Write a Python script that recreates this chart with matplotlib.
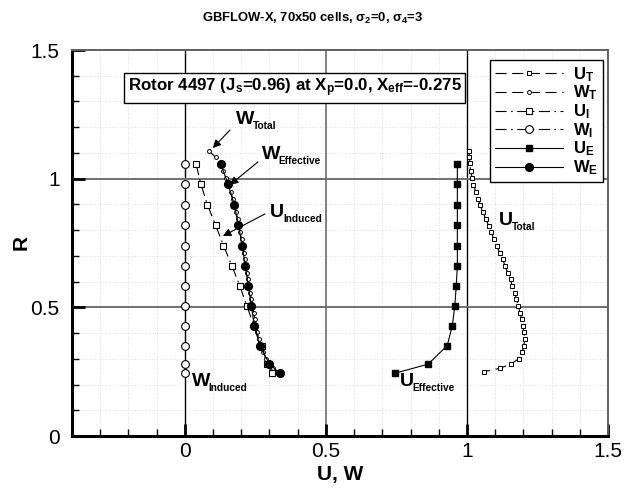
import matplotlib
matplotlib.use("Agg")
import matplotlib.pyplot as plt
from matplotlib.lines import Line2D
from matplotlib.transforms import IdentityTransform
import numpy as np

plt.rcParams['font.family'] = ['Liberation Sans', 'DejaVu Sans']
plt.rcParams['mathtext.fontset'] = 'custom'
plt.rcParams['mathtext.rm'] = 'Liberation Sans:bold'
plt.rcParams['mathtext.bf'] = 'Liberation Sans:bold'
plt.rcParams['mathtext.it'] = 'Liberation Sans:bold'
plt.rcParams['mathtext.sf'] = 'Liberation Sans:bold'

# ---- data ----
R_T = [1.109, 1.083, 1.060, 1.030, 1.001, 0.976, 0.950, 0.922, 0.898, 0.872,
       0.845, 0.817, 0.793, 0.764, 0.738, 0.712, 0.687, 0.661, 0.635, 0.609,
       0.583, 0.557, 0.531, 0.505, 0.479, 0.454, 0.429, 0.404, 0.378, 0.351,
       0.325, 0.300, 0.280, 0.263, 0.250]
U_T = [1.008, 1.008, 1.011, 1.013, 1.019, 1.022, 1.032, 1.040, 1.046, 1.056,
       1.066, 1.077, 1.086, 1.095, 1.106, 1.116, 1.127, 1.135, 1.144, 1.155,
       1.160, 1.170, 1.175, 1.182, 1.188, 1.194, 1.197, 1.202, 1.205, 1.202,
       1.196, 1.183, 1.156, 1.117, 1.060]
W_T = [0.085, 0.109, 0.125, 0.136, 0.146, 0.155, 0.162, 0.170, 0.176, 0.181,
       0.187, 0.192, 0.196, 0.201, 0.205, 0.209, 0.213, 0.217, 0.221, 0.225,
       0.228, 0.232, 0.236, 0.240, 0.244, 0.248, 0.252, 0.256, 0.262, 0.268,
       0.276, 0.286, 0.298, 0.312, 0.325]

R_S = [1.056, 0.978, 0.899, 0.819, 0.740, 0.661, 0.583, 0.505, 0.428, 0.351,
       0.279, 0.244]
U_I = [0.040, 0.057, 0.080, 0.109, 0.137, 0.167, 0.195, 0.220, 0.245, 0.272,
       0.293, 0.309]
W_I = [0.0] * 12
U_E = [0.966, 0.966, 0.966, 0.966, 0.966, 0.966, 0.962, 0.957, 0.948, 0.930,
       0.862, 0.745]
W_E = [0.127, 0.154, 0.175, 0.190, 0.203, 0.214, 0.225, 0.236, 0.246, 0.266,
       0.300, 0.337]

x_ticks = [0, 0.5, 1, 1.5]
x_ticklabels = ['0', '0.5', '1', '1.5']
y_ticks = [0, 0.5, 1, 1.5]
y_ticklabels = ['0', '0.5', '1', '1.5']

W, H = 625, 491
fig = plt.figure(figsize=(W / 100, H / 100), dpi=100)
ax = fig.add_axes([72 / W, (H - 436) / H, (608 - 72) / W, (436 - 50) / H])
ax.set_xlim(-0.4, 1.5)
ax.set_ylim(0, 1.5)

# grids
for v in np.arange(-0.3, 1.5, 0.1):
    ax.axvline(v, color='#d0d0d0', lw=0.6, ls=(0, (1, 2)), zorder=0)
for v in np.arange(0.1, 1.5, 0.1):
    ax.axhline(v, color='#d0d0d0', lw=0.6, ls=(0, (1, 2)), zorder=0)
ax.axvline(0.5, color='#808080', lw=1.4, zorder=1)
for v in [0, 1]:
    ax.axvline(v, color='black', lw=1.0, zorder=1)
for v in [0.5, 1]:
    ax.axhline(v, color='#707070', lw=1.4, zorder=1)

dash = (0, (10, 5))
dashdot = (0, (10, 4, 1.5, 4))
lw = 0.8
styles = [
    (U_T, R_T, dict(ls=dash, marker='s', ms=2.6, mfc='white', mec='black', mew=0.7)),
    (W_T, R_T, dict(ls=dash, marker='o', ms=2.8, mfc='white', mec='black', mew=0.7)),
    (U_I, R_S, dict(ls=dashdot, marker='s', ms=5.0, mfc='white', mec='black', mew=0.8)),
    (W_I, R_S, dict(ls=dashdot, marker='o', ms=5.6, mfc='white', mec='black', mew=0.8)),
    (U_E, R_S, dict(ls='-', marker='s', ms=4.8, mfc='black', mec='black')),
    (W_E, R_S, dict(ls='-', marker='o', ms=5.6, mfc='black', mec='black')),
]
labels = [r'$\mathbf{U}_\mathbf{T}$', r'$\mathbf{W}_\mathbf{T}$',
          r'$\mathbf{U}_\mathbf{I}$', r'$\mathbf{W}_\mathbf{I}$',
          r'$\mathbf{U}_\mathbf{E}$', r'$\mathbf{W}_\mathbf{E}$']
handles = []
for xs, ys, st in styles:
    ax.plot(xs, ys, color='black', lw=lw, zorder=3, **st)
    handles.append(Line2D([], [], color='black', lw=lw, **st))

# spines and ticks
for s in ['left', 'bottom']:
    ax.spines[s].set_linewidth(2.2)
    ax.spines[s].set_color('black')
for s in ['top', 'right']:
    ax.spines[s].set_linewidth(1.4)
    ax.spines[s].set_color('#606060')
ax.set_xticks(x_ticks)
ax.set_xticklabels(x_ticklabels)
ax.set_yticks(y_ticks)
ax.set_yticklabels(y_ticklabels)
ax.set_xticks(np.arange(-0.3, 1.5, 0.1), minor=True)
ax.set_yticks(np.arange(0.1, 1.5, 0.1), minor=True)
ax.tick_params(which='major', direction='in', length=9, width=2, labelsize=15,
               top=False, right=False)
ax.tick_params(which='minor', direction='in', length=5, width=1, top=False, right=False)
ax.tick_params(axis='x', which='major', pad=4)
ax.tick_params(axis='y', which='major', pad=9)

ax.set_xlabel('U, W', fontsize=15, fontweight='bold')
ax.xaxis.set_label_coords(0.5, -0.074)
ax.set_ylabel('R', fontsize=15, fontweight='bold')
ax.yaxis.set_label_coords(-0.078, 0.5)

fig.text(313 / W, 1 - 18 / H, 'GBFLOW-X, 70x50 cells, σ$_\\mathbf{2}$=0, σ$_\\mathbf{4}$=3',
         ha='center', va='center', fontsize=9.4, fontweight='bold')

# info box
ax.text(0.390, 1.352,
        r'Rotor 4497 (J$_\mathbf{s}$=0.96) at X$_\mathbf{p}$=0.0, X$_\mathbf{eff}$=-0.275',
        ha='center', va='center', fontsize=12.2, fontweight='bold', zorder=6,
        bbox=dict(boxstyle='square,pad=0.2', fc='white', ec='black', lw=1))

# annotations
arrow = dict(arrowstyle='-|>', color='black', lw=0.8, mutation_scale=12, shrinkA=0, shrinkB=0)
ax.annotate('', xy=(0.099, 1.119), xytext=(0.160, 1.189), arrowprops=arrow, zorder=5)
ax.annotate('', xy=(0.160, 0.976), xytext=(0.259, 1.065), arrowprops=arrow, zorder=5)
ax.annotate('', xy=(0.135, 0.777), xytext=(0.284, 0.863), arrowprops=arrow, zorder=5)

ann_main = ['W', 'W', 'U', 'U', 'W', 'U']
ann_sub = ['Total', 'Effective', 'Induced', 'Total', 'Induced', 'Effective']
ann_x = [0.181, 0.273, 0.303, 1.113, 0.025, 0.762]
ann_y = [1.213, 1.077, 0.851, 0.820, 0.194, 0.194]
mains = []
for m, x, y in zip(ann_main, ann_x, ann_y):
    mains.append(ax.text(x, y, m, fontsize=14, fontweight='bold', ha='left',
                         va='baseline', zorder=5))

leg = fig.legend(handles, labels, loc='upper left',
                 bbox_to_anchor=(490 / W, 1 - 60 / H), fontsize=12,
                 frameon=True, fancybox=False, edgecolor='black', framealpha=1,
                 handlelength=4.1, handletextpad=0.6, labelspacing=0.0,
                 borderpad=0.3, borderaxespad=0, numpoints=1)
leg.get_frame().set_linewidth(1.0)

fig.canvas.draw()
renderer = fig.canvas.get_renderer()
for t, s in zip(mains, ann_sub):
    bb = t.get_window_extent(renderer)
    x0, y0 = t.get_transform().transform(t.get_position())
    fig.text(bb.x1 - 1.5, y0 - 5, s, transform=IdentityTransform(), fontsize=7.3,
             fontweight='bold', ha='left', va='baseline', zorder=5)

fig.savefig('out.png', dpi=100)
